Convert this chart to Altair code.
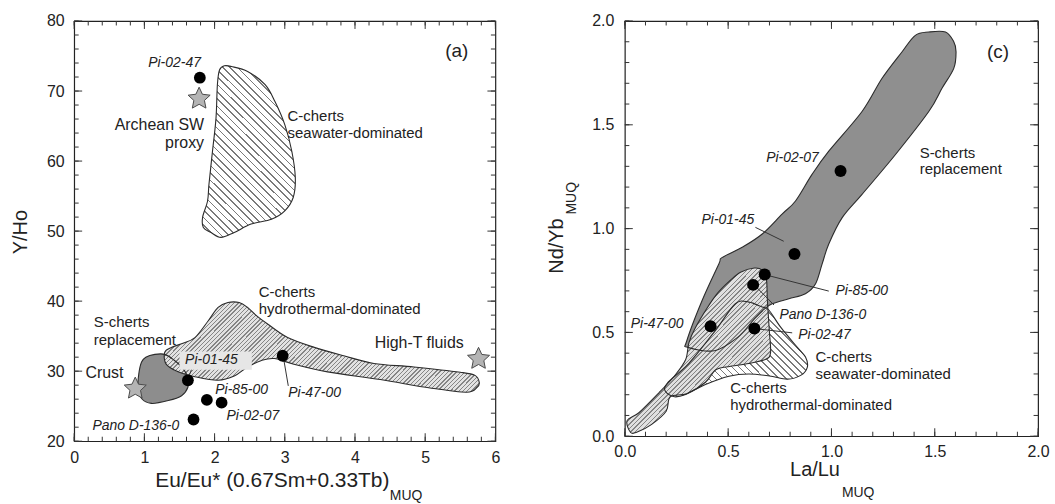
import math
import altair as alt
import pandas as pd

# ---------------- Panel (a): Eu/Eu* vs Y/Ho ----------------
A_SW_X = [2.14, 2.24, 2.47, 2.72, 2.86, 3.00, 3.10, 3.15, 3.12, 3.00, 2.81, 2.52, 2.28, 2.09, 1.95, 1.84, 1.83, 1.90, 1.92, 1.97, 2.02, 2.04, 2.07]
A_SW_Y = [73.6, 73.5, 72.8, 70.9, 68.5, 65.2, 61.4, 57.6, 54.8, 52.9, 51.7, 51.0, 49.8, 49.1, 49.8, 50.5, 52.0, 54.3, 56.7, 61.4, 66.1, 70.9, 73.0]

A_HY_X = [1.29, 1.39, 1.55, 1.72, 1.91, 2.05, 2.19, 2.35, 2.47, 2.60, 2.76, 3.04, 3.42, 3.84, 4.27, 4.84, 5.50, 5.71, 5.77, 5.74, 5.59, 5.07, 4.36, 3.61, 3.13, 2.85, 2.66, 2.47, 2.28, 2.05, 1.72, 1.48, 1.31]
A_HY_Y = [32.7, 33.4, 34.0, 34.8, 37.2, 39.1, 39.8, 39.8, 39.1, 37.9, 36.7, 34.8, 33.4, 32.2, 31.1, 30.6, 29.85, 29.4, 28.4, 27.7, 27.0, 27.6, 28.8, 29.9, 31.0, 31.8, 31.5, 30.6, 29.3, 28.7, 29.2, 29.9, 31.0]

A_SC_X = [1.02, 1.15, 1.29, 1.42, 1.55, 1.62, 1.62, 1.53, 1.34, 1.10, 0.96, 0.91, 0.92, 0.96]
A_SC_Y = [32.0, 32.4, 32.4, 31.6, 30.4, 29.0, 27.7, 26.5, 25.8, 25.4, 26.1, 27.7, 29.6, 31.3]

A_PT_NAME = ["Pi-02-47", "Pi-01-45", "Pi-85-00", "Pi-02-07", "Pano D-136-0", "Pi-47-00"]
A_PT_X = [1.79, 1.62, 1.89, 2.10, 1.70, 2.97]
A_PT_Y = [71.9, 28.7, 25.9, 25.5, 23.1, 32.2]

A_LBL_X = [1.43, 1.58, 2.01, 2.17, 0.26, 3.05]
A_LBL_Y = [74.05, 31.6, 27.3, 23.6, 22.1, 26.95]
A_LBL_ALIGN = ["center", "left", "left", "left", "left", "left"]

A_STAR_NAME = ["Archean SW proxy", "Crust", "High-T fluids"]
A_STAR_X = [1.78, 0.87, 5.76]
A_STAR_Y = [68.9, 27.5, 31.75]

A_TXT = ["Archean SW", "proxy", "C-cherts", "seawater-dominated", "C-cherts", "hydrothermal-dominated",
         "S-cherts", "replacement", "High-T fluids", "Crust"]
A_TXT_X = [1.85, 1.85, 3.04, 3.04, 2.63, 2.63, 0.28, 0.28, 4.28, 0.16]
A_TXT_Y = [65.2, 62.6, 66.5, 64.0, 41.3, 38.9, 37.0, 34.5, 33.95, 29.7]
A_TXT_ALIGN = ["right", "right", "left", "left", "left", "left", "left", "left", "left", "left"]
A_TXT_SIZE = [16, 16, 15, 15, 15, 15, 15, 15, 16, 16]

A_BOX = {"x": [1.50], "x2": [2.53], "y": [30.2], "y2": [32.8]}
A_LEAD = {"x": [2.99, 1.67], "y": [31.4, 30.2], "x2": [3.05, 1.64], "y2": [27.9, 29.4]}

A_XTICKS = [0, 1, 2, 3, 4, 5, 6]
A_YTICKS = [20, 30, 40, 50, 60, 70, 80]
A_XMINOR = [round(i * 0.2, 2) for i in range(31)]
A_YMINOR = [20 + 2 * i for i in range(31)]

# ---------------- Panel (c): La/Lu vs Nd/Yb ----------------
C_SC_X = [0.300, 0.374, 0.455, 0.470, 0.568, 0.665, 0.761, 0.826, 0.906, 0.987, 1.148, 1.245, 1.342, 1.406, 1.471, 1.552, 1.592, 1.603, 1.592, 1.535, 1.471, 1.310, 1.148, 1.052, 0.987, 0.955, 0.923, 0.874, 0.794, 0.713, 0.675, 0.627, 0.546, 0.434, 0.305]
C_SC_Y = [0.460, 0.654, 0.830, 0.860, 0.910, 0.974, 1.070, 1.133, 1.261, 1.373, 1.564, 1.724, 1.852, 1.931, 1.947, 1.947, 1.900, 1.852, 1.772, 1.676, 1.564, 1.357, 1.165, 1.053, 0.926, 0.830, 0.734, 0.686, 0.662, 0.638, 0.612, 0.565, 0.476, 0.412, 0.428]

C_HY_X = [0.028, 0.011, 0.068, 0.165, 0.240, 0.294, 0.310, 0.340, 0.400, 0.450, 0.510, 0.560, 0.627, 0.665, 0.685, 0.690, 0.700, 0.705, 0.680, 0.600, 0.500, 0.440, 0.390, 0.300, 0.220, 0.200, 0.130, 0.060]
C_HY_Y = [0.018, 0.075, 0.113, 0.209, 0.290, 0.368, 0.450, 0.520, 0.620, 0.690, 0.750, 0.790, 0.810, 0.800, 0.760, 0.650, 0.500, 0.400, 0.370, 0.350, 0.335, 0.320, 0.260, 0.205, 0.190, 0.120, 0.057, 0.020]

C_SW_X = [0.197, 0.205, 0.310, 0.439, 0.535, 0.600, 0.665, 0.697, 0.755, 0.835, 0.875, 0.883, 0.851, 0.787, 0.700, 0.600, 0.504, 0.390, 0.294, 0.240]
C_SW_Y = [0.215, 0.255, 0.351, 0.510, 0.638, 0.646, 0.622, 0.608, 0.524, 0.428, 0.380, 0.332, 0.293, 0.275, 0.290, 0.300, 0.289, 0.249, 0.201, 0.190]

C_PT_NAME = ["Pi-02-07", "Pi-01-45", "Pi-85-00", "Pano D-136-0", "Pi-02-47", "Pi-47-00"]
C_PT_X = [1.044, 0.821, 0.677, 0.621, 0.627, 0.415]
C_PT_Y = [1.277, 0.878, 0.779, 0.729, 0.519, 0.530]

C_LBL_X = [0.684, 0.371, 1.019, 0.748, 0.839, 0.029]
C_LBL_Y = [1.341, 1.041, 0.699, 0.583, 0.487, 0.540]

C_TXT = ["S-cherts", "replacement", "C-cherts", "seawater-dominated", "C-cherts", "hydrothermal-dominated"]
C_TXT_X = [1.427, 1.427, 0.923, 0.923, 0.510, 0.510]
C_TXT_Y = [1.365, 1.285, 0.383, 0.300, 0.231, 0.148]

C_LEAD = {"x": [0.632, 0.690, 0.630, 0.640], "y": [1.006, 0.775, 0.725, 0.517],
          "x2": [0.769, 0.987, 0.722, 0.810], "y2": [0.939, 0.699, 0.632, 0.498]}

C_TICKS = [0.0, 0.5, 1.0, 1.5, 2.0]
C_MINOR = [round(i * 0.1, 2) for i in range(21)]

# ---------------- layout / style ----------------
FONT = "Liberation Sans"
TXT = "#222222"
AW, AH = 423, 422
CW, CH = 415, 417
MAJ, MIN = 8, 4.5


def star_path(r_in=0.48):
    pts = []
    for k in range(10):
        ang = math.radians(-90 + 36 * k)
        r = 1.0 if k % 2 == 0 else r_in
        pts.append(f"{r * math.cos(ang):.4f},{r * math.sin(ang):.4f}")
    return "M" + "L".join(pts) + "Z"


def hatch(xs, ys, sx, sy, kind, spacing, lw, bg, fg):
    w = (max(xs) - min(xs)) * sx
    h = (max(ys) - min(ys)) * sy
    c = (w + h) / (w * w + h * h)
    if kind == "back":
        x1, y1, x2, y2 = 0, 1, c * w, 1 - c * h
    else:
        x1, y1, x2, y2 = 0, 0, c * w, c * h
    n = max(1, round((w + h) / math.sqrt(2) / spacing))
    fr = lw / spacing
    stops = []
    for k in range(n):
        a, b, e = k / n, (k + 1 - fr) / n, (k + 1) / n
        stops += [alt.GradientStop(offset=a, color=bg), alt.GradientStop(offset=b, color=bg),
                  alt.GradientStop(offset=b, color=fg), alt.GradientStop(offset=e, color=fg)]
    return alt.LinearGradient(gradient="linear", stops=stops, x1=x1, y1=y1, x2=x2, y2=y2)


def make_panel(xdom, ydom, W, H, xvals, yvals, xminor, yminor, fmt, xpad, ypad):
    xs = alt.Scale(domain=xdom, nice=False, zero=False)
    ys = alt.Scale(domain=ydom, nice=False, zero=False)
    xax = alt.Axis(values=xvals, format=fmt, ticks=False, domain=False, grid=False, title=None,
                   labelFont=FONT, labelFontSize=16, labelColor=TXT, labelPadding=xpad, labelFlush=False)
    yax = alt.Axis(values=yvals, format=fmt, ticks=False, domain=False, grid=False, title=None,
                   labelFont=FONT, labelFontSize=16, labelColor=TXT, labelPadding=ypad, labelFlush=False)

    def X(f):
        return alt.X(f, type="quantitative", scale=xs, axis=xax)

    def Y(f):
        return alt.Y(f, type="quantitative", scale=ys, axis=yax)

    def poly(px, py, fill=None, outline=False):
        df = pd.DataFrame({"x": px, "y": py, "i": list(range(len(px)))})
        if outline:
            m = alt.Chart(df).mark_line(color="#2b2b2b", strokeWidth=1.1, interpolate="cardinal-closed")
        else:
            m = alt.Chart(df).mark_line(fill=fill, strokeOpacity=0, interpolate="cardinal-closed")
        return m.encode(x=X("x"), y=Y("y"), order=alt.Order("i:Q"))

    def ticks():
        layers = []
        for vals, ln in ((xminor, MIN), (xvals, MAJ)):
            d = pd.DataFrame({"v": vals})
            layers.append(alt.Chart(d).mark_rule(color="#333", strokeWidth=1).encode(
                x=X("v"), y=alt.value(H), y2=alt.value(H - ln)))
            layers.append(alt.Chart(d).mark_rule(color="#333", strokeWidth=1).encode(
                x=X("v"), y=alt.value(0), y2=alt.value(ln)))
        for vals, ln in ((yminor, MIN), (yvals, MAJ)):
            d = pd.DataFrame({"v": vals})
            layers.append(alt.Chart(d).mark_rule(color="#333", strokeWidth=1).encode(
                y=Y("v"), x=alt.value(0), x2=alt.value(ln)))
            layers.append(alt.Chart(d).mark_rule(color="#333", strokeWidth=1).encode(
                y=Y("v"), x=alt.value(W), x2=alt.value(W - ln)))
        return layers

    def points(px, py, size=140):
        df = pd.DataFrame({"x": px, "y": py})
        return alt.Chart(df).mark_point(filled=True, color="#000000", opacity=1, size=size).encode(
            x=X("x"), y=Y("y"))

    def texts(tx, tt, ty, align, size, italic=False):
        df = pd.DataFrame({"x": tx, "y": ty, "t": tt})
        return alt.Chart(df).mark_text(align=align, baseline="middle", font=FONT, fontSize=size,
                                       fontStyle="italic" if italic else "normal", color=TXT).encode(
            x=X("x"), y=Y("y"), text="t:N")

    def leads(d):
        df = pd.DataFrame(d)
        return alt.Chart(df).mark_rule(color="#333", strokeWidth=1).encode(
            x=X("x"), y=Y("y"), x2="x2:Q", y2="y2:Q")

    def ptext(t, x, y, size, angle=0, align="center"):
        df = pd.DataFrame({"t": [t]})
        return alt.Chart(df).mark_text(font=FONT, fontSize=size, color=TXT, angle=angle, align=align,
                                       baseline="middle").encode(
            text="t:N", x=alt.value(x), y=alt.value(y))

    return dict(X=X, Y=Y, poly=poly, ticks=ticks, points=points, texts=texts, leads=leads, ptext=ptext)


SXA, SYA = AW / 6, AH / 60
SXC, SYC = CW / 2, CH / 2

# ---- panel a ----
pa = make_panel([0, 6], [20, 80], AW, AH, A_XTICKS, A_YTICKS, A_XMINOR, A_YMINOR, "d", 8, 10)
a_layers = [
    pa["poly"](A_SC_X, A_SC_Y, fill="#8d8d8d"),
    pa["poly"](A_SW_X, A_SW_Y, fill=hatch(A_SW_X, A_SW_Y, SXA, SYA, "back", 5.2, 1.2, "#ffffff", "#7a7a7a")),
    pa["poly"](A_HY_X, A_HY_Y, fill=hatch(A_HY_X, A_HY_Y, SXA, SYA, "fwd", 3.0, 1.0, "#e2e2e2", "#858585")),
    pa["poly"](A_SC_X, A_SC_Y, outline=True),
    pa["poly"](A_SW_X, A_SW_Y, outline=True),
    pa["poly"](A_HY_X, A_HY_Y, outline=True),
    alt.Chart(pd.DataFrame(A_BOX)).mark_rect(color="#e6e6e6").encode(
        x=pa["X"]("x"), x2="x2:Q", y=pa["Y"]("y"), y2="y2:Q"),
    pa["leads"](A_LEAD),
] + pa["ticks"]() + [
    pa["points"](A_PT_X, A_PT_Y),
    alt.Chart(pd.DataFrame({"x": A_STAR_X, "y": A_STAR_Y, "n": A_STAR_NAME})).mark_point(
        shape=star_path(), filled=True, fill="#b4b4b4", stroke="#4a4a4a", strokeWidth=1, opacity=1, size=540
    ).encode(x=pa["X"]("x"), y=pa["Y"]("y")),
]
for al in ("left", "center", "right"):
    idx = [i for i, a in enumerate(A_LBL_ALIGN) if a == al]
    if idx:
        a_layers.append(pa["texts"]([A_LBL_X[i] for i in idx], [A_PT_NAME[i] for i in idx],
                                    [A_LBL_Y[i] for i in idx], al, 14, italic=True))
for al in ("left", "right"):
    for sz in (15, 16):
        idx = [i for i in range(len(A_TXT)) if A_TXT_ALIGN[i] == al and A_TXT_SIZE[i] == sz]
        if idx:
            a_layers.append(pa["texts"]([A_TXT_X[i] for i in idx], [A_TXT[i] for i in idx],
                                        [A_TXT_Y[i] for i in idx], al, sz))
a_layers += [
    pa["texts"]([5.45], ["(a)"], [75.7], "center", 19),
    pa["ptext"]("Eu/Eu* (0.67Sm+0.33Tb)", 199, 462, 21),
    pa["ptext"]("MUQ", 317, 477, 14, align="left"),
    pa["ptext"]("Y/Ho", -53, 212, 20, angle=270),
]
panel_a = alt.layer(*a_layers).properties(width=AW, height=AH)

# ---- panel c ----
pc = make_panel([0, 2], [0, 2], CW, CH, C_TICKS, C_TICKS, C_MINOR, C_MINOR, ".1f", 7, 11)
c_layers = [
    pc["poly"](C_SC_X, C_SC_Y, fill="#8f8f8f"),
    pc["poly"](C_SW_X, C_SW_Y, fill=hatch(C_SW_X, C_SW_Y, SXC, SYC, "back", 5.0, 1.2, "#ffffff", "#7a7a7a")),
    pc["poly"](C_HY_X, C_HY_Y, fill=hatch(C_HY_X, C_HY_Y, SXC, SYC, "fwd", 3.2, 1.0, "#e0e0e0", "#858585")),
    pc["poly"](C_SC_X, C_SC_Y, outline=True),
    pc["poly"](C_SW_X, C_SW_Y, outline=True),
    pc["poly"](C_HY_X, C_HY_Y, outline=True),
    pc["leads"](C_LEAD),
] + pc["ticks"]() + [
    pc["points"](C_PT_X, C_PT_Y, size=145),
    pc["texts"](C_LBL_X, C_PT_NAME, C_LBL_Y, "left", 14, italic=True),
    pc["texts"](C_TXT_X, C_TXT, C_TXT_Y, "left", 15),
    pc["texts"]([1.806], ["(c)"], [1.852], "center", 19),
    pc["ptext"]("La/Lu", 191, 451, 20),
    pc["ptext"]("MUQ", 218, 474, 14, align="left"),
    pc["ptext"]("Nd/Yb", -68, 226, 20, angle=270),
    pc["ptext"]("MUQ", -53, 178, 14, angle=270),
]
panel_c = alt.layer(*c_layers).properties(width=CW, height=CH)

chart = alt.hconcat(panel_a, panel_c, spacing=130, bounds="flush").configure_view(
    stroke="#222222", strokeWidth=1.2).properties(
    padding={"left": 10.5, "top": 11, "right": 5, "bottom": 5}, background="white")

chart.save("out.html", embed_options={"renderer": "svg", "actions": False})
